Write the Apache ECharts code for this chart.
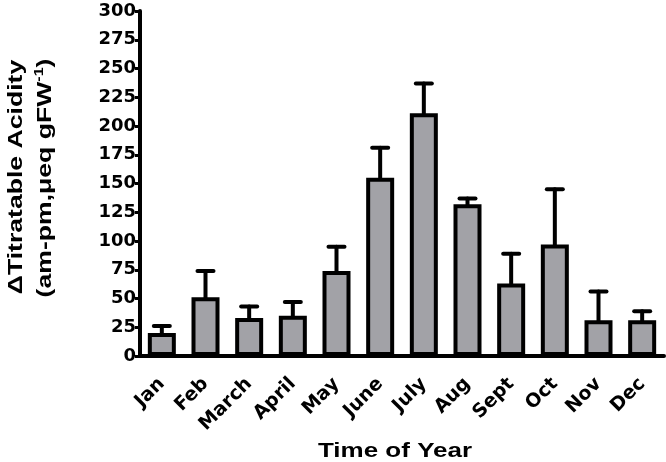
<!DOCTYPE html>
<html>
<head>
<meta charset="utf-8">
<script src="https://cdn.jsdelivr.net/npm/echarts@6/dist/echarts.min.js"></script>
<style>
    html, body { margin: 0; padding: 0; background: #fff; }
    #main { width: 666px; height: 462px; }
</style>
</head>
<body>
<div id="main"></div>
<script>
// 月份
var months = ['Jan', 'Feb', 'March', 'April', 'May', 'June', 'July', 'Aug', 'Sept', 'Oct', 'Nov', 'Dec']
// 平均值
var acidity = [20, 51, 33, 35, 74, 155, 211, 132, 63, 97, 31, 31]
// 误差上限
var errorTop = [26, 74, 43, 47, 95, 181, 237, 137, 89, 145, 56, 39]
var yTicks = [0, 25, 50, 75, 100, 125, 150, 175, 200, 225, 250, 275, 300]

var errorData = months.map(function (m, i) {
    return [i, acidity[i], errorTop[i]]
})

var myChart = echarts.init(document.getElementById('main'))

var option = {
    animation: false,
    grid: { left: 140, right: 2, top: 11, bottom: 106 },
    xAxis: {
        type: 'category',
        data: months,
        axisLine: { lineStyle: { color: '#000', width: 4 } },
        axisTick: { alignWithLabel: true, length: 6, lineStyle: { color: '#000', width: 3 } },
        axisLabel: {
            rotate: 45,
            interval: 0,
            margin: 25,
            color: '#000',
            fontFamily: 'DejaVu Sans',
            fontWeight: 'bold',
            fontSize: 19
        }
    },
    yAxis: {
        type: 'value',
        min: yTicks[0],
        max: yTicks[yTicks.length - 1],
        interval: 25,
        splitLine: { show: false },
        axisLine: { show: true, lineStyle: { color: '#000', width: 4 } },
        axisTick: { show: true, length: 5, lineStyle: { color: '#000', width: 3 } },
        axisLabel: {
            margin: 4,
            color: '#000',
            fontFamily: 'DejaVu Sans',
            fontWeight: 'bold',
            fontSize: 18
        }
    },
    graphic: [
        {
            type: 'text',
            x: 16, y: 177,
            rotation: Math.PI / 2,
            scaleX: 1.33, scaleY: 1.05,
            style: {
                text: 'ΔTitratable Acidity',
                align: 'center',
                verticalAlign: 'middle',
                font: 'bold 20px "Liberation Sans"',
                fill: '#000'
            }
        },
        {
            type: 'text',
            x: 45, y: 178,
            rotation: Math.PI / 2,
            scaleX: 1.33, scaleY: 1.05,
            style: {
                text: '{a|(am-pm,μeq gFW}{s|-1}{a|)}',
                align: 'center',
                verticalAlign: 'middle',
                rich: {
                    a: { font: 'bold 20px "Liberation Sans"', fill: '#000' },
                    s: { font: 'bold 12px "Liberation Sans"', fill: '#000', verticalAlign: 'top', padding: [0, 0, 10, 0] }
                }
            }
        },
        {
            type: 'text',
            x: 395, y: 451,
            scaleX: 1.3,
            style: {
                text: 'Time of Year',
                align: 'center',
                verticalAlign: 'middle',
                font: 'bold 20px "Liberation Sans"',
                fill: '#000'
            }
        }
    ],
    series: [
        {
            type: 'custom',
            data: errorData,
            z: 1,
            renderItem: function (params, api) {
                var i = api.value(0)
                var base = api.coord([i, api.value(1)])
                var top = api.coord([i, api.value(2)])
                var cap = 8
                var st = { stroke: '#000', lineWidth: 4, lineCap: 'round' }
                return {
                    type: 'group',
                    children: [
                        { type: 'line', shape: { x1: base[0], y1: base[1], x2: top[0], y2: top[1] }, style: st },
                        { type: 'line', shape: { x1: top[0] - cap, y1: top[1], x2: top[0] + cap, y2: top[1] }, style: st }
                    ]
                }
            }
        },
        {
            type: 'bar',
            data: acidity,
            barWidth: 28,
            z: 2,
            itemStyle: {
                color: '#a2a2a7',
                borderColor: '#000',
                borderWidth: 4
            }
        }
    ]
}

myChart.setOption(option)
</script>
</body>
</html>
